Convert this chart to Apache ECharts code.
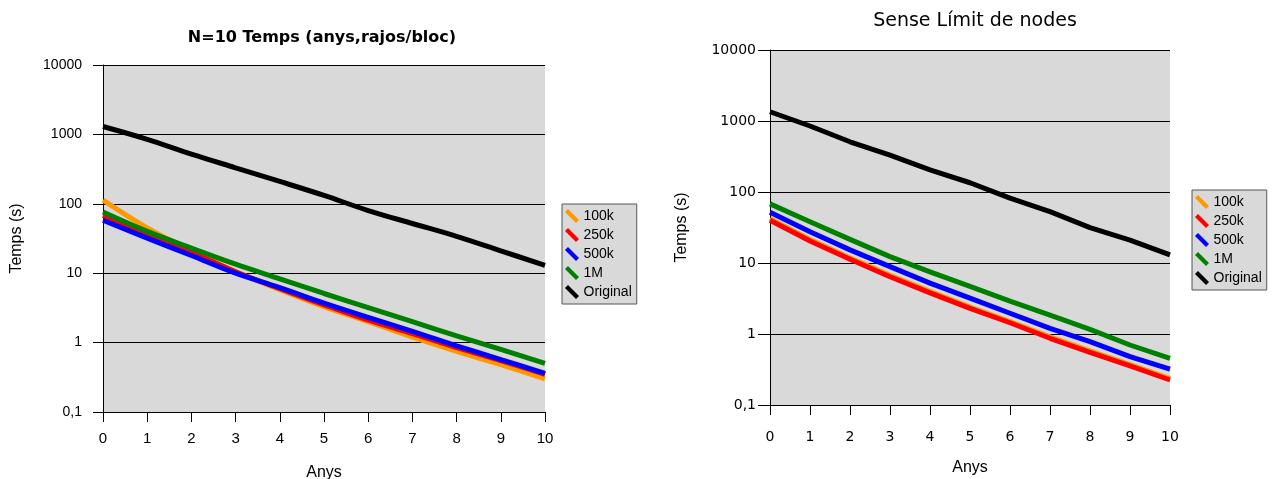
<!DOCTYPE html>
<html>
<head>
  <meta charset="UTF-8">
  <title>Temps</title>
  <script src="https://cdn.jsdelivr.net/npm/echarts@6/dist/echarts.min.js"></script>
  <style>
    html, body { margin:0; padding:0; background:#fff; }
    #chart { width:1275px; height:479px; }
  </style>
</head>
<body>
<div id="chart"></div>
<script type="text/javascript">
  var years = [0,1,2,3,4,5,6,7,8,9,10];
  var names = ['100k','250k','500k','1M','Original'];
  var colors = ['#ff9900','#ff0000','#0000ff','#008000','#000000'];

  // N=10 Temps (anys,rajos/bloc)
  var left100k  = [113,45,21,10.5,5.8,3.3,2.0,1.2,0.75,0.48,0.30];
  var left250k  = [68,37,20,10.5,6.0,3.5,2.1,1.35,0.85,0.55,0.35];
  var left500k  = [58,32,18,10,6.2,3.7,2.3,1.45,0.9,0.57,0.36];
  var left1M    = [76,40,23,13.5,8.3,5.1,3.2,2.0,1.25,0.8,0.5];
  var leftOrig  = [1300,850,520,330,210,132,80,52,34,21,13];

  // Sense Límit de nodes
  var right100k = [42,21.5,11.8,6.7,4.0,2.4,1.5,0.91,0.58,0.37,0.235];
  var right250k = [40,20.4,11.3,6.4,3.8,2.3,1.44,0.87,0.55,0.355,0.225];
  var right500k = [52,27.6,15.3,8.9,5.2,3.2,1.96,1.2,0.78,0.48,0.32];
  var right1M   = [68,38,21.5,12.3,7.5,4.7,2.9,1.85,1.16,0.70,0.455];
  var rightOrig = [1350,850,510,330,205,135,82,53,31.5,21,13];

  var leftData = [left100k,left250k,left500k,left1M,leftOrig];
  var rightData = [right100k,right250k,right500k,right1M,rightOrig];

  var font = 'Liberation Sans, Arial, sans-serif';
  var wide = 'DejaVu Sans, sans-serif';
  var legendIcon = 'path://M3,0 L14,11 L11,14 L0,3 Z';

  function pairs(arr){
    return arr.map(function(v,i){ return [years[i], v]; });
  }

  // idx 0 = left chart, 1 = right chart
  function xAxis(idx){
    return {
      type:'value', gridIndex:idx, min:0, max:10, interval:1,
      name:'Anys', nameLocation:'middle', nameGap: idx ? 55 : 53,
      nameTextStyle:{ fontFamily:font, fontSize:16, color:'#000' },
      axisLine:{ show:true, lineStyle:{ color:'#000', width:1 } },
      axisTick:{ show:true, length:10, lineStyle:{ color:'#000' } },
      axisLabel:{ fontFamily: idx ? wide : font, fontSize: idx ? 14 : 15, color:'#000', margin: idx ? 25 : 19 },
      splitLine:{ show:false }
    };
  }

  function yAxis(idx){
    return {
      type:'log', logBase:10, gridIndex:idx, min:0.1, max:10000,
      name:'Temps (s)', nameLocation:'middle', nameGap: idx ? 80 : 78,
      nameTextStyle:{ fontFamily:font, fontSize:16, color:'#000' },
      axisLine:{ show:true, lineStyle:{ color:'#000', width:1 } },
      axisTick:{ show:true, inside:false, length: idx ? 12 : 10, lineStyle:{ color:'#000' } },
      axisLabel:{ fontFamily: idx ? wide : font, fontSize:14, color:'#000', margin: idx ? 14 : 21,
        formatter:function(v){ return v < 0.5 ? '0,1' : String(Math.round(v)); } },
      splitLine:{ show:true, lineStyle:{ color:'#000', width:1 } }
    };
  }

  function legend(left, top){
    return {
      orient:'vertical', left:left, top:top,
      data:names.map(function(n){ return { name:n, icon:legendIcon }; }),
      itemWidth:15, itemHeight:14, itemGap:5,
      padding:[5,5,5,3],
      backgroundColor:'#d9d9d9', borderColor:'#555', borderWidth:1,
      itemStyle:{ borderWidth:0 },
      textStyle:{ fontFamily:font, fontSize:14, color:'#000', padding:[0,0,0,-1] },
      selectedMode:false
    };
  }

  var series = [];
  leftData.forEach(function(d,i){
    series.push({
      name:names[i], type:'line', xAxisIndex:0, yAxisIndex:0,
      data:pairs(d), smooth:0.35, showSymbol:false, symbol:'none',
      color:colors[i], lineStyle:{ width:5, color:colors[i] }, z:2+i
    });
  });
  rightData.forEach(function(d,i){
    series.push({
      name:names[i], type:'line', xAxisIndex:1, yAxisIndex:1,
      data:pairs(d), smooth:false, showSymbol:false, symbol:'none',
      color:colors[i], lineStyle:{ width:5, color:colors[i], join:'round' }, z:2+i
    });
  });

  var chart = echarts.init(document.getElementById('chart'), null, { renderer:'canvas' });
  chart.setOption({
    animation:false,
    backgroundColor:'#fff',
    title:[
      { text:'N=10 Temps (anys,rajos/bloc)', left:317, top:25, textAlign:'center',
        textStyle:{ fontFamily:wide, fontSize:16, fontWeight:'bold', color:'#000' } },
      { text:'Sense Límit de nodes', left:970, top:7, textAlign:'center',
        textStyle:{ fontFamily:wide, fontSize:19, fontWeight:'normal', color:'#000' } }
    ],
    legend:[ legend(562,204), legend(1192,190) ],
    grid:[
      { left:103, top:65, width:442, height:347, show:true, backgroundColor:'#d9d9d9', borderWidth:0,
        containLabel:false, outerBoundsMode:'none' },
      { left:770, top:50, width:400, height:355, show:true, backgroundColor:'#d9d9d9', borderWidth:0,
        containLabel:false, outerBoundsMode:'none' }
    ],
    xAxis:[ xAxis(0), xAxis(1) ],
    yAxis:[ yAxis(0), yAxis(1) ],
    series:series
  });
</script>
</body>
</html>
